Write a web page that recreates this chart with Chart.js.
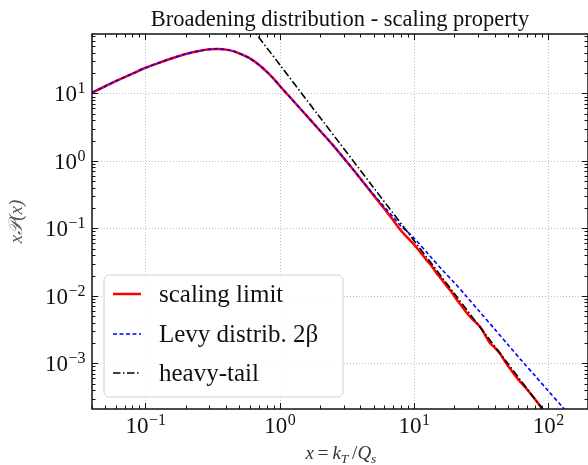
<!DOCTYPE html>
<html>
<head>
<meta charset="utf-8">
<title>Broadening distribution - scaling property</title>
<script src="https://cdn.jsdelivr.net/npm/chart.js"></script>
<style>
  html,body{margin:0;padding:0;background:#fff}
  #wrap{width:588px;height:465px}
</style>
</head>
<body>
<div id="wrap"><canvas id="chart" width="588" height="465"></canvas></div>
<script>
// scaling limit (red)
const xRed = [0.04,0.05,0.06,0.08,0.1,0.13,0.16,0.2,0.25,0.3,0.35,0.4,0.45,0.5,0.6,0.7,0.8,0.9,1,1.2,1.5,2,2.5,3,3.5,4,
              5,6,7,8,9,10,11,12.4,13.5,14.8,16,17.5,19,20.8,22.5,24.7,27,31,34,36.8,40,43.7,49,54.9,61,69,78,89,95];
const yRed = [10.3,12.7,15.2,19.6,24,29,33.5,38.5,42.5,45,45.5,44.6,42.4,39.2,33,26.6,21,16.6,13,8.7,5.3,2.8,1.7,1.1,0.76,0.545,
              0.31,0.197,0.132,0.093,0.072,0.058,0.046,0.034,0.028,0.0215,0.0178,0.014,0.0115,0.0088,0.0072,0.0056,0.0046,0.0035,
              0.0026,0.002,0.0017,0.0014,0.00098,0.00072,0.00055,0.00042,0.00031,0.00022,0.00018];
// Levy distrib. 2beta (blue dashed)
const xLevy = [0.04,0.05,0.06,0.08,0.1,0.13,0.16,0.2,0.25,0.3,0.35,0.4,0.45,0.5,0.6,0.7,0.8,0.9,1,1.2,1.5,2,2.5,3,3.5,4,
               5,6,7,8,10,13,16.5,20,24.2,30,40,50,64.6,80,100,126,140];
const yLevy = [10.3,12.7,15.2,19.6,24,29,33.5,38.5,42.5,45,45.5,44.6,42.4,39.2,33,26.6,21,16.6,13,8.7,5.3,2.8,1.7,1.1,0.76,0.545,
               0.32,0.21,0.148,0.108,0.072,0.04,0.0235,0.0157,0.0102,0.0062,0.0032,0.0019,0.00105,0.00065,0.00039,0.000232,0.000182];
// heavy-tail (black dash-dot)
const xTail = [0.6,1,2,5,10,20,50,100,200];
const yTail = [101,26.8,4.39,0.403,0.066,0.0108,0.000995,0.000163,0.0000268];

const xTickVals = [0.1,1,10,100];
const xTickExp  = ['\u22121','0','1','2'];
const yTickVals = [0.001,0.01,0.1,1,10];
const yTickExp  = ['\u22123','\u22122','\u22121','0','1'];

const labels = ['scaling limit','Levy distrib. 2\u03b2','heavy-tail'];
const colors = ['#ff0000','#0000ff','#000000'];
const dashes = [[],[4,2.5],[7.5,2.5,1.5,2.5]];

const SERIF = '"Liberation Serif", "DejaVu Serif", serif';

function pts(xs, ys){ return xs.map((x,i)=>({x:x, y:ys[i]})); }

// positions m*10^k (m=1..9) inside [lo,hi], for the inward tick marks
function tickPos(lo, hi){
  const out = [];
  for(let k=Math.floor(Math.log10(lo)); k<=Math.ceil(Math.log10(hi)); k++){
    for(let m=1;m<10;m++){
      const v = m*Math.pow(10,k);
      if(v>=lo*0.999 && v<=hi*1.001) out.push({v:v, major:m===1});
    }
  }
  return out;
}

function drawPow(ctx, exp, x, y, align){
  const fb = '23px '+SERIF, fe = '16px '+SERIF;
  ctx.font = fb; const wb = ctx.measureText('10').width;
  ctx.font = fe; const we = ctx.measureText(exp).width;
  const w = wb+we;
  let x0 = align==='right' ? x-w : x-w/2;
  ctx.textAlign='left'; ctx.textBaseline='alphabetic';
  ctx.font = fb; ctx.fillText('10', x0, y);
  ctx.font = fe; ctx.fillText(exp, x0+wb+0.5, y-8);
}

const decor = {
  id:'decor',
  beforeDatasetsDraw(chart){
    const {ctx, chartArea:a, scales:{x,y}} = chart;
    ctx.save();
    ctx.strokeStyle='#b8b8b8'; ctx.lineWidth=0.9; ctx.setLineDash([1,2]);
    xTickVals.forEach(v=>{
      const px = Math.round(x.getPixelForValue(v))+0.5;
      ctx.beginPath(); ctx.moveTo(px,a.top); ctx.lineTo(px,a.bottom); ctx.stroke();
    });
    yTickVals.forEach(v=>{
      const py = Math.round(y.getPixelForValue(v))+0.5;
      ctx.beginPath(); ctx.moveTo(a.left,py); ctx.lineTo(a.right,py); ctx.stroke();
    });
    ctx.restore();
  },
  afterDraw(chart){
    const {ctx, chartArea:a, scales:{x,y}} = chart;
    ctx.save();
    // legend box
    const lx=104, ly=275, lw=239, lh=122, r=5;
    ctx.beginPath();
    ctx.moveTo(lx+r,ly); ctx.arcTo(lx+lw,ly,lx+lw,ly+lh,r); ctx.arcTo(lx+lw,ly+lh,lx,ly+lh,r);
    ctx.arcTo(lx,ly+lh,lx,ly,r); ctx.arcTo(lx,ly,lx+lw,ly,r); ctx.closePath();
    ctx.fillStyle='rgba(255,255,255,0.85)'; ctx.fill();
    ctx.strokeStyle='#d0d0d0'; ctx.lineWidth=1; ctx.stroke();
    const rows=[294,334,373];
    labels.forEach((t,i)=>{
      ctx.strokeStyle=colors[i]; ctx.lineWidth = i===0?2.5:1.6;
      ctx.setLineDash(dashes[i]);
      ctx.beginPath(); ctx.moveTo(113,rows[i]); ctx.lineTo(141,rows[i]); ctx.stroke();
      ctx.setLineDash([]);
      ctx.fillStyle='#111'; ctx.font='25px '+SERIF; ctx.textAlign='left'; ctx.textBaseline='middle';
      ctx.fillText(t, 159, rows[i]+1);
    });

    // frame
    ctx.strokeStyle='#111'; ctx.lineWidth=1.5;
    ctx.strokeRect(a.left, a.top, a.right-a.left, a.bottom-a.top);

    // inward ticks on all four sides
    ctx.lineWidth=1;
    tickPos(x.min, x.max).forEach(t=>{
      const px = Math.round(x.getPixelForValue(t.v))+0.5, L = t.major?6:3.5;
      ctx.beginPath();
      ctx.moveTo(px,a.bottom); ctx.lineTo(px,a.bottom-L);
      ctx.moveTo(px,a.top); ctx.lineTo(px,a.top+L);
      ctx.stroke();
    });
    tickPos(y.min, y.max).forEach(t=>{
      const py = Math.round(y.getPixelForValue(t.v))+0.5, L = t.major?6:3.5;
      ctx.beginPath();
      ctx.moveTo(a.left,py); ctx.lineTo(a.left+L,py);
      ctx.moveTo(a.right,py); ctx.lineTo(a.right-L,py);
      ctx.stroke();
    });

    // tick labels
    ctx.fillStyle='#111';
    xTickVals.forEach((v,i)=>drawPow(ctx, xTickExp[i], x.getPixelForValue(v), 433, 'center'));
    yTickVals.forEach((v,i)=>drawPow(ctx, yTickExp[i], a.left-7, y.getPixelForValue(v)+8, 'right'));

    // title
    ctx.font='22.5px '+SERIF; ctx.textAlign='center'; ctx.textBaseline='alphabetic';
    ctx.fillText('Broadening distribution - scaling property', (a.left+a.right)/2, 26);

    // x axis label: x = k_T / Q_s
    ctx.fillStyle='#333';
    const it='italic 19px '+SERIF, up='19px '+SERIF, sub='italic 13.5px '+SERIF;
    const parts=[['x',it,0],['\u2009=\u2009',up,0],['k',it,0],['T',sub,4],['\u2009/',up,0],['Q',it,0],['s',sub,4]];
    let tw=0; parts.forEach(p=>{ctx.font=p[1]; tw+=ctx.measureText(p[0]).width;});
    let cx=(a.left+a.right)/2 - tw/2 + 1;
    ctx.textAlign='left';
    parts.forEach(p=>{ctx.font=p[1]; ctx.fillText(p[0], cx, 459+p[2]); cx+=ctx.measureText(p[0]).width;});

    // y axis label
    ctx.translate(17,(a.top+a.bottom)/2); ctx.rotate(-Math.PI/2);
    ctx.fillStyle='#555'; ctx.font='italic 19px '+SERIF; ctx.textAlign='center'; ctx.textBaseline='middle';
    ctx.fillText('x\ud835\udcab(x)', 0, 0);
    ctx.restore();
  }
};

new Chart(document.getElementById('chart'),{
  type:'line',
  data:{
    datasets:[
      { label:labels[0], data:pts(xRed,yRed),   borderColor:colors[0], borderWidth:2.5, order:3 },
      { label:labels[1], data:pts(xLevy,yLevy), borderColor:colors[1], borderWidth:1.6, borderDash:dashes[1], order:2 },
      { label:labels[2], data:pts(xTail,yTail), borderColor:colors[2], borderWidth:1.6, borderDash:dashes[2], order:1 }
    ]
  },
  options:{
    responsive:false,
    animation:false,
    events:[],
    elements:{ point:{radius:0}, line:{tension:0.3, fill:false} },
    layout:{ padding:{top:34,right:0,left:0,bottom:0} },
    plugins:{ legend:{display:false}, title:{display:false}, tooltip:{enabled:false} },
    scales:{
      x:{
        type:'logarithmic', min:0.04, max:198,
        afterBuildTicks:s=>{ s.ticks = xTickVals.map(v=>({value:v})); },
        afterFit:s=>{ s.height = 56; },
        ticks:{display:false}, grid:{display:false}, border:{display:false}
      },
      y:{
        type:'logarithmic', min:0.00021, max:76,
        afterBuildTicks:s=>{ s.ticks = yTickVals.map(v=>({value:v})); },
        afterFit:s=>{ s.width = 92; },
        ticks:{display:false}, grid:{display:false}, border:{display:false}
      }
    }
  },
  plugins:[decor]
});
</script>
</body>
</html>
